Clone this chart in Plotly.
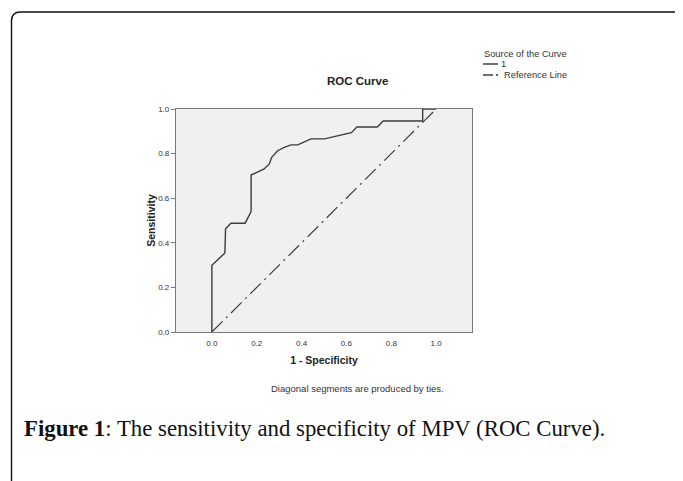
import plotly.graph_objects as go

# ---- data ----
fpr = [0.0, 0.0, 0.058, 0.061, 0.085, 0.148, 0.175, 0.175, 0.233, 0.257, 0.266,
       0.293, 0.323, 0.353, 0.383, 0.442, 0.502, 0.622, 0.647, 0.738, 0.764,
       0.940, 0.940, 1.0]
tpr = [0.0, 0.299, 0.354, 0.463, 0.488, 0.488, 0.540, 0.704, 0.731, 0.755, 0.782,
       0.813, 0.828, 0.839, 0.839, 0.866, 0.866, 0.894, 0.919, 0.919, 0.946,
       0.946, 1.0, 1.0]
ref_x = [0.0, 1.0]
ref_y = [0.0, 1.0]
tick_vals = [0.0, 0.2, 0.4, 0.6, 0.8, 1.0]
tick_text = ["0.0", "0.2", "0.4", "0.6", "0.8", "1.0"]

# ---- geometry (page pixels; page body has an 8px margin) ----
OFF = 8
W, H = 683 - OFF, 481 - OFF
L, R, T, B = 176 - OFF, 472 - OFF, 109 - OFF, 332 - OFF


def xp(px):
    return (px - OFF - L) / (R - L)


def yp(py):
    return (B - (py - OFF)) / (B - T)


fig = go.Figure()
fig.add_trace(go.Scatter(x=fpr, y=tpr, mode="lines", name="1",
                         line=dict(color="#3c3c3c", width=1.4), showlegend=False))
fig.add_trace(go.Scatter(x=ref_x, y=ref_y, mode="lines", name="Reference Line",
                         line=dict(color="#3c3c3c", width=1.2, dash="15px,5px,2px,5px"),
                         showlegend=False))

axis_font = dict(family="Arial, Liberation Sans, sans-serif", size=8, color="#333")
fig.update_xaxes(range=[-0.16, 1.16], tickvals=tick_vals, ticktext=tick_text,
                 showgrid=False, zeroline=False, showline=True, mirror=True,
                 linecolor="#7a7a7a", linewidth=1.3, ticks="outside", ticklen=3,
                 tickcolor="rgba(0,0,0,0)", tickfont=axis_font,
                 title=dict(text="<b>1 - Specificity</b>", standoff=9,
                            font=dict(family="Arial, Liberation Sans, sans-serif", size=10.5, color="#222")))
fig.update_yaxes(range=[0, 1], tickvals=tick_vals, ticktext=tick_text,
                 showgrid=False, zeroline=False, showline=True, mirror=True,
                 linecolor="#7a7a7a", linewidth=1.3, ticks="outside", ticklen=4,
                 tickcolor="#7a7a7a", tickfont=axis_font,
                 title=dict(text="<b>Sensitivity</b>", standoff=0,
                            font=dict(family="Arial, Liberation Sans, sans-serif", size=10.5, color="#222")))

shapes = []
# outer page frame with rounded corner
r = 9
frame = (f"M {xp(11.5)},{yp(500)} L {xp(11.5)},{yp(12+r)} "
         f"Q {xp(11.5)},{yp(12)} {xp(11.5+r)},{yp(12)} L {xp(700)},{yp(12)}")
shapes.append(dict(type="path", xref="paper", yref="paper", path=frame,
                   line=dict(color="#111", width=1.4)))
# legend samples
shapes.append(dict(type="line", xref="paper", yref="paper",
                   x0=xp(483), x1=xp(498), y0=yp(64), y1=yp(64),
                   line=dict(color="#333", width=1.4)))
shapes.append(dict(type="line", xref="paper", yref="paper",
                   x0=xp(483), x1=xp(493), y0=yp(75), y1=yp(75),
                   line=dict(color="#333", width=1.4)))
shapes.append(dict(type="line", xref="paper", yref="paper",
                   x0=xp(496), x1=xp(498), y0=yp(75), y1=yp(75),
                   line=dict(color="#333", width=1.4)))

small = dict(family="Arial, Liberation Sans, sans-serif", size=9.3, color="#333")
annotations = [
    dict(text="Source of the Curve", x=xp(482), y=yp(54), xanchor="left", yanchor="middle",
         xref="paper", yref="paper", showarrow=False, font=small),
    dict(text="1", x=xp(499), y=yp(64), xanchor="left", yanchor="middle",
         xref="paper", yref="paper", showarrow=False, font=small),
    dict(text="Reference Line", x=xp(502), y=yp(75), xanchor="left", yanchor="middle",
         xref="paper", yref="paper", showarrow=False, font=small),
    dict(text="<b>ROC Curve</b>", x=xp(357), y=yp(81), xanchor="center", yanchor="middle",
         xref="paper", yref="paper", showarrow=False,
         font=dict(family="Arial, Liberation Sans, sans-serif", size=11.5, color="#222")),
    dict(text="Diagonal segments are produced by ties.", x=xp(357), y=yp(388),
         xanchor="center", yanchor="middle", xref="paper", yref="paper", showarrow=False,
         font=dict(family="Arial, Liberation Sans, sans-serif", size=9.5, color="#333")),
    dict(text="<b>Figure 1</b>: The sensitivity and specificity of MPV (ROC Curve).",
         x=xp(22), y=yp(428), xanchor="left", yanchor="middle", xref="paper", yref="paper",
         showarrow=False,
         font=dict(family="Liberation Serif, DejaVu Serif, serif", size=22.8, color="#111")),
]

fig.update_layout(width=W, height=H, margin=dict(l=L, r=W - R, t=T, b=H - B),
                  paper_bgcolor="white", plot_bgcolor="#f0f0f0",
                  shapes=shapes, annotations=annotations, showlegend=False)

fig.write_html("out.html")
